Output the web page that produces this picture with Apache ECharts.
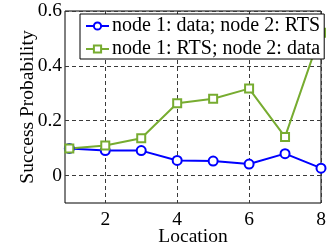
<!DOCTYPE html>
<html>
<head>
<meta charset="utf-8">
<script src="https://cdn.jsdelivr.net/npm/echarts@6/dist/echarts.min.js"></script>
<style>
  html, body { margin: 0; padding: 0; background: #fff; }
  #chart { width: 333px; height: 248px; }
</style>
</head>
<body>
<div id="chart"></div>
<script>
const locations = [1, 2, 3, 4, 5, 6, 7, 8]
const dataRts = [0.099, 0.091, 0.091, 0.055, 0.053, 0.042, 0.080, 0.027]
const rtsData = [0.099, 0.110, 0.136, 0.264, 0.280, 0.317, 0.141, 0.521]
const xTicks = [2, 4, 6, 8]
const yTicks = [0, 0.2, 0.4, 0.6]

const font = 'Liberation Serif'
const gridColor = '#3a3a3a'

const chart = echarts.init(document.getElementById('chart'), null, { renderer: 'canvas' })

chart.setOption({
  animation: false,
  textStyle: { fontFamily: font },
  grid: {
    left: 65, right: 12, top: 11, bottom: 45,
    outerBoundsMode: 'none',
    show: true, borderColor: '#000', borderWidth: 1, backgroundColor: 'transparent',
  },
  legend: {
    orient: 'vertical',
    left: 80, top: 14,
    padding: [2, 4, 0, 5],
    itemGap: 3,
    itemWidth: 23,
    itemHeight: 9,
    backgroundColor: '#fff',
    borderColor: '#000',
    borderWidth: 1,
    borderRadius: 0,
    textStyle: { fontFamily: font, fontSize: 20, color: '#000', padding: [0, 0, 0, -2] },
  },
  xAxis: {
    type: 'value',
    min: 0.88, max: 8,
    name: 'Location',
    nameLocation: 'middle',
    nameGap: 24,
    nameMoveOverlap: false,
    nameTextStyle: { fontFamily: font, fontSize: 19.5, color: '#000' },
    axisLine: { show: false },
    axisTick: { show: false, customValues: xTicks },
    axisLabel: { customValues: xTicks, fontFamily: font, fontSize: 19.5, color: '#000', margin: 7 },
    splitLine: { show: true, lineStyle: { color: gridColor, type: [4, 3], width: 1 } },
  },
  yAxis: {
    type: 'value',
    min: -0.1, max: 0.6,
    name: 'Success Probability',
    nameLocation: 'middle',
    nameGap: 27,
    nameMoveOverlap: false,
    nameTextStyle: { fontFamily: font, fontSize: 19.5, color: '#000' },
    axisLine: { show: false },
    axisTick: { show: false, customValues: yTicks },
    axisLabel: {
      customValues: yTicks, fontFamily: font, fontSize: 19.5, color: '#000', margin: 3,
      formatter: v => (v === 0 ? '0' : v.toFixed(1)),
    },
    splitLine: { show: true, lineStyle: { color: gridColor, type: [4, 3], width: 1 } },
  },
  series: [
    {
      name: 'node 1: data; node 2: RTS',
      type: 'line',
      data: locations.map((x, i) => [x, dataRts[i]]),
      symbol: 'emptyCircle',
      symbolSize: 9,
      lineStyle: { color: '#0000ff', width: 2 },
      itemStyle: { color: '#0000ff', borderWidth: 2 },
    },
    {
      name: 'node 1: RTS; node 2: data',
      type: 'line',
      data: locations.map((x, i) => [x, rtsData[i]]),
      symbol: 'emptyRect',
      symbolSize: 8,
      lineStyle: { color: '#77ac30', width: 2 },
      itemStyle: { color: '#77ac30', borderWidth: 2 },
    },
  ],
})
</script>
</body>
</html>
